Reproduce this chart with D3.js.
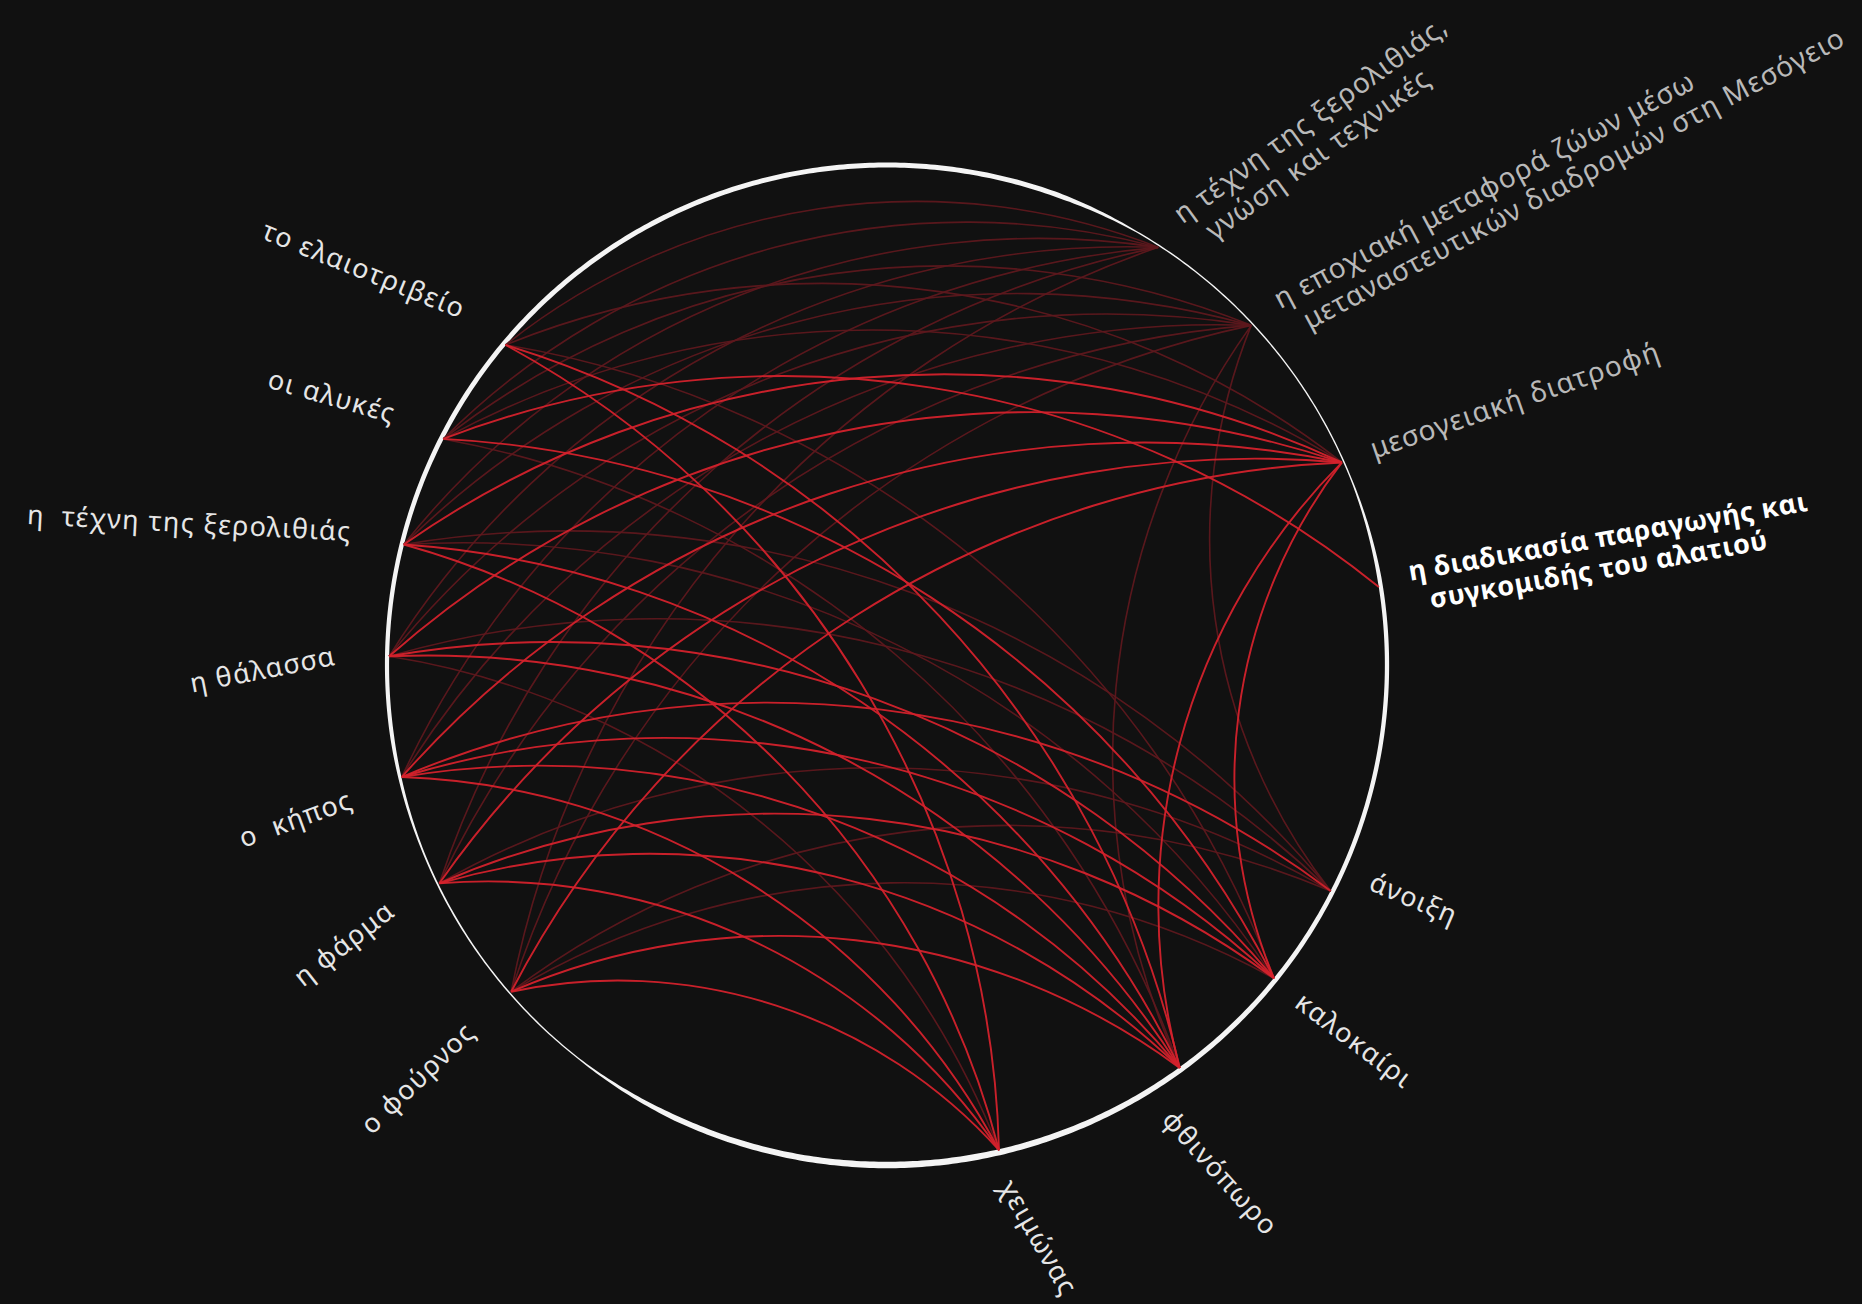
<!DOCTYPE html>
<html>
<head>
<meta charset="utf-8">
<script src="https://cdn.jsdelivr.net/npm/d3@7"></script>
<style>
  html, body { margin: 0; padding: 0; background: #111111; }
  svg { display: block; }
  text { white-space: pre; }
</style>
</head>
<body>
<script>
let w = 1862;
let h = 1304;
let cx = 887;
let cy = 665;
let radius = 500;

// nodes on the ring, clockwise from the top (degrees)
let nodeKeys = ["elaio", "alykes", "xerolithia", "thalassa", "kipos", "farma", "fournos",
  "xeimonas", "fthinoporo", "kalokairi", "anoixi",
  "alati", "diatrofi", "metafora", "texni"];
let nodeLabels = [
  "το ελαιοτριβείο",
  "οι αλυκές",
  "η  τέχνη της ξερολιθιάς",
  "η θάλασσα",
  "ο  κήπος",
  "η φάρμα",
  "ο φούρνος",
  "χειμώνας",
  "φθινόπωρο",
  "καλοκαίρι",
  "άνοιξη",
  "η διαδικασία παραγωγής και\nσυγκομιδής του αλατιού",
  "μεσογειακή διατροφή",
  "η εποχιακή μεταφορά ζώων μέσω\nμεταναστευτικών διαδρομών στη Μεσόγειο",
  "η τέχνη της ξερολιθιάς,\nγνώση και τεχνικές"
];
let nodeAngles = [310, 297, 284, 271, 257, 244, 229, 167, 144, 129, 117, 81, 66, 47, 33];
let nodeKind = ["place", "place", "place", "place", "place", "place", "place",
  "season", "season", "season", "season",
  "focus", "heritage", "heritage", "heritage"];

// links: source -> target, weight 1 = faint, 2 = strong
let linkSource = [
  "elaio", "elaio", "elaio", "elaio", "elaio",
  "alykes", "alykes", "alykes", "alykes", "alykes", "alykes",
  "xerolithia", "xerolithia", "xerolithia", "xerolithia", "xerolithia", "xerolithia", "xerolithia",
  "thalassa", "thalassa", "thalassa", "thalassa", "thalassa", "thalassa", "thalassa",
  "kipos", "kipos", "kipos", "kipos", "kipos", "kipos", "kipos",
  "farma", "farma", "farma", "farma", "farma", "farma", "farma",
  "fournos", "fournos", "fournos", "fournos", "fournos", "fournos", "fournos",
  "fthinoporo", "fthinoporo", "kalokairi", "anoixi"
];
let linkTarget = [
  "xeimonas", "fthinoporo", "kalokairi", "diatrofi", "texni",
  "kalokairi", "alati", "diatrofi", "metafora", "fthinoporo", "texni",
  "texni", "metafora", "diatrofi", "fthinoporo", "kalokairi", "anoixi", "xeimonas",
  "diatrofi", "metafora", "kalokairi", "fthinoporo", "xeimonas", "anoixi", "texni",
  "anoixi", "kalokairi", "fthinoporo", "xeimonas", "diatrofi", "metafora", "texni",
  "anoixi", "kalokairi", "fthinoporo", "xeimonas", "metafora", "diatrofi", "texni",
  "xeimonas", "fthinoporo", "kalokairi", "anoixi", "diatrofi", "metafora", "texni",
  "diatrofi", "metafora", "diatrofi", "metafora"
];
let linkWeight = [
  2, 2, 1, 1, 1,
  2, 2, 1, 1, 1, 1,
  1, 1, 2, 2, 1, 1, 2,
  2, 1, 2, 2, 1, 1, 1,
  2, 2, 2, 2, 2, 1, 1,
  1, 2, 2, 2, 1, 2, 1,
  2, 2, 1, 1, 2, 1, 1,
  2, 1, 2, 1
];

// hand-set label tilt and angular nudge (deg), the labels are not strictly radial
let labelRotate = [22, 16, 3, -11, -20, -38, -44, 60, 48, 37, 23, -10, -19, -28, -36];
let labelNudge = [0, 0, 0, 0, -1, 0, 0, 0, 4, 0, -3, 0, 0, 1, 1];

let nodes = nodeKeys.map((k, i) => ({
  key: k, label: nodeLabels[i], angle: nodeAngles[i], kind: nodeKind[i],
  rot: labelRotate[i], nudge: labelNudge[i]
}));
let byKey = new Map(nodes.map((d) => [d.key, d]));
let links = linkSource.map((s, i) => ({
  source: byKey.get(s), target: byKey.get(linkTarget[i]), weight: linkWeight[i]
}));

let angle = d3.scaleLinear().domain([0, 360]).range([0, 2 * Math.PI]);
function pos(a, r) {
  return [cx + r * Math.sin(angle(a)), cy - r * Math.cos(angle(a))];
}

let linkColor = d3.scaleOrdinal().domain([1, 2]).range(["#5e181d", "#d4222c"]);
let linkWidth = d3.scaleOrdinal().domain([1, 2]).range([1.6, 1.9]);

let svg = d3.select("body").append("svg").attr("width", w).attr("height", h);
svg.append("rect").attr("width", w).attr("height", h).attr("fill", "#111111");

// ring with varying thickness
let ringWidth = d3.scaleLinear()
  .domain([0, 20, 30, 68, 80, 120, 180, 205, 218, 248, 262, 300, 360])
  .range([5, 5, 1.4, 1.4, 4.2, 4.5, 6.5, 5.5, 1.3, 1.8, 4, 4.8, 5]);
let ring = d3.areaRadial()
  .angle((a) => angle(a))
  .innerRadius((a) => radius - ringWidth(a) / 2)
  .outerRadius((a) => radius + ringWidth(a) / 2);

let v = svg.append("g").attr("transform", `translate(${cx},${cy})`);
v.append("path")
  .attr("d", ring(d3.range(0, 360.5, 0.5)))
  .attr("fill", "#f4f4f4");

// links: circular arcs, radius = chord length
let linkLayer = svg.append("g").attr("fill", "none");
linkLayer.selectAll("path.link")
  .data(links.slice().sort((a, b) => a.weight - b.weight))
  .enter()
  .append("path")
  .attr("class", "link")
  .attr("d", (d) => {
    let s = pos(d.source.angle, radius - 2);
    let t = pos(d.target.angle, radius - 2);
    let dr = Math.hypot(t[0] - s[0], t[1] - s[1]);
    return `M${s[0]},${s[1]}A${dr},${dr} 0 0,1 ${t[0]},${t[1]}`;
  })
  .attr("stroke", (d) => linkColor(d.weight))
  .attr("stroke-width", (d) => linkWidth(d.weight))
  .attr("stroke-opacity", 0.95);

// labels
let labels = svg.append("g")
  .style("font-family", "'Noto Sans', 'DejaVu Sans', sans-serif");
labels.selectAll("g.label")
  .data(nodes)
  .enter()
  .append("g")
  .attr("class", "label")
  .attr("transform", (d) => {
    let left = d.angle > 180;
    let p = pos(d.angle + d.nudge, left ? radius + 52 : radius + 30);
    return `translate(${p[0]},${p[1]}) rotate(${d.rot})`;
  })
  .each(function (d) {
    let left = d.angle > 180;
    let lines = d.label.split("\n");
    let t = d3.select(this).append("text")
      .attr("text-anchor", left ? "end" : "start")
      .attr("fill", d.kind === "heritage" ? "#b9b9b9" : (d.kind === "focus" ? "#ffffff" : "#e6e6e6"))
      .attr("font-size", d.kind === "focus" ? 27 : (d.kind === "heritage" ? 28 : 27))
      .attr("font-weight", d.kind === "focus" ? 700 : 400)
      .attr("letter-spacing", d.kind === "focus" ? "0.02em" : (d.kind === "heritage" ? "0.04em" : "0.05em"));
    lines.forEach((line, i) => {
      t.append("tspan")
        .attr("x", i === 0 ? 0 : 16)
        .attr("y", 0)
        .attr("dy", lines.length === 1 ? "0.35em" : (i === 0 ? "-0.05em" : "1.1em"))
        .text(line);
    });
  });
</script>
</body>
</html>
